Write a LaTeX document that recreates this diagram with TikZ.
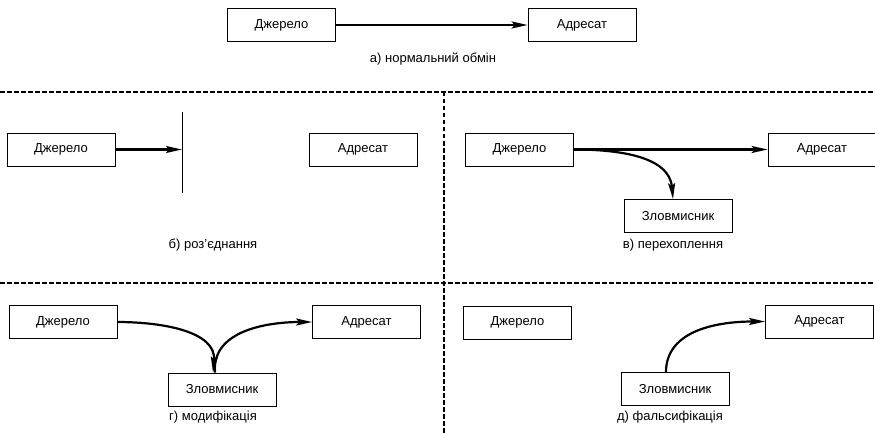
\documentclass[tikz,border=0pt]{standalone}
\usepackage{fontspec}
\setmainfont{Liberation Sans}
\usetikzlibrary{arrows.meta}
\begin{document}
\begin{tikzpicture}[x=1pt,y=-1pt,
  box/.style={draw,line width=0.8pt,minimum width=108pt,minimum height=33pt,inner sep=0pt,font=\fontsize{13}{15}\selectfont},
  lbl/.style={font=\fontsize{13}{15}\selectfont,inner sep=0pt},
  arr/.style={line width=2.2pt,-{Stealth[length=16pt,width=7pt,inset=3pt]}},
  sep/.style={line width=1.4pt,dash pattern=on 4.5pt off 2.5pt}]
\useasboundingbox (0,0) rectangle (875,433);
% panel a
\node[box] (aS) at (281.5,25) {Джерело};
\node[box] (aD) at (582,25) {Адресат};
\node[lbl] (aL) at (433,59) {а) нормальний обмін};
\draw[arr] (aS.east) -- (aD.west);
% separators
\coordinate (hl1) at (0,92);
\coordinate (hr1) at (875,92);
\coordinate (hl2) at (0,283);
\coordinate (hr2) at (875,283);
\coordinate (vt) at (444,92);
\coordinate (vb) at (444,433);
\draw[sep] (hl1) -- (hr1);
\draw[sep] (hl2) -- (hr2);
\draw[sep] (vt) -- (vb);
% panel b
\node[box] (bS) at (61,149.5) {Джерело};
\node[box] (bD) at (363,149.5) {Адресат};
\node[lbl] (bL) at (213,245) {б) роз’єднання};
\coordinate (bT) at (182,112);
\coordinate (bB) at (182,193);
\coordinate (bX) at (182,149.5);
\draw[line width=1pt] (bT) -- (bB);
\draw[arr] (bS.east) -- (bX);
% panel c
\node[box] (cS) at (519.5,149.5) {Джерело};
\node[box] (cD) at (822,149.5) {Адресат};
\node[box] (cM) at (678,216) {Зловмисник};
\node[lbl] (cL) at (673,245) {в) перехоплення};
\draw[arr] (cS.east) -- (cD.west);
\draw[arr] (cS.east) to[out=0,in=95] ([xshift=-5pt]cM.north);
% panel d
\node[box] (dS) at (63,322) {Джерело};
\node[box] (dD) at (366.5,322) {Адресат};
\node[box] (dM) at (222,389.5) {Зловмисник};
\node[lbl] (dL) at (213,417) {г) модифікація};
\draw[arr] (dS.east) to[out=0,in=85] ([xshift=-9pt]dM.north);
\draw[arr] ([xshift=-7pt]dM.north) to[out=95,in=180] (dD.west);
% panel e
\node[box] (eS) at (517.5,322.5) {Джерело};
\node[box] (eD) at (819.5,321.5) {Адресат};
\node[box] (eM) at (675,389) {Зловмисник};
\node[lbl] (eL) at (670,417) {д) фальсифікація};
\draw[arr] ([xshift=-9pt]eM.north) to[out=90,in=180] (eD.west);
\end{tikzpicture}
\end{document}
